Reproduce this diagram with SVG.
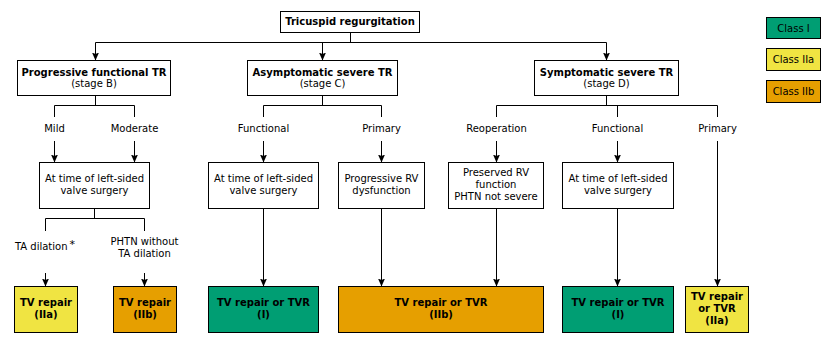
<svg xmlns="http://www.w3.org/2000/svg" width="832" height="344" viewBox="0 0 832 344">
  <style>
    text { font-family: "DejaVu Sans", Verdana, sans-serif; font-size: 10px; fill: #000; text-anchor: middle; }
    .b { font-weight: bold; }
    .box { fill: #fff; stroke: #000; stroke-width: 1; }
    .c1 { fill: #009E73; stroke: #000; stroke-width: 1; }
    .c2a { fill: #F0E442; stroke: #000; stroke-width: 1; }
    .c2b { fill: #E69F00; stroke: #000; stroke-width: 1; }
    .ln { fill: none; stroke: #000; stroke-width: 1; }
    .ar { fill: none; stroke: #000; stroke-width: 1; marker-end: url(#arrow); }
  </style>
  <defs>
    <marker id="arrow" markerUnits="userSpaceOnUse" viewBox="0 0 8 7" markerWidth="8" markerHeight="7" refX="8" refY="3.5" orient="auto">
      <path d="M0,0 L8,3.5 L0,7 L1.5,3.5 z" fill="#000"/>
    </marker>
  </defs>

  <rect width="832" height="344" fill="#fff"/>

  <!-- connectors -->
  <g id="connectors">
    <path class="ln" d="M350.5,32.5 V42.5 M95.5,42.5 H606.5"/>
    <path class="ar" d="M95.5,42.5 V60.5"/>
    <path class="ar" d="M322.5,42.5 V60.5"/>
    <path class="ar" d="M606.5,42.5 V60.5"/>

    <!-- stage B -->
    <path class="ln" d="M95.5,95.5 V105.5 M54.5,105.5 H134.5 M54.5,105.5 V117 M134.5,105.5 V117"/>
    <path class="ar" d="M54.5,141 V162.5"/>
    <path class="ar" d="M134.5,141 V162.5"/>
    <path class="ln" d="M94.5,208.5 V218.5 M45.5,218.5 H144.5 M45.5,218.5 V231 M144.5,218.5 V231"/>
    <path class="ar" d="M45.5,273 V286.5"/>
    <path class="ar" d="M144.5,273 V286.5"/>

    <!-- stage C -->
    <path class="ln" d="M322.5,95.5 V105.5 M263.5,105.5 H381.5 M263.5,105.5 V117 M381.5,105.5 V117"/>
    <path class="ar" d="M263.5,141 V162.5"/>
    <path class="ar" d="M381.5,141 V162.5"/>
    <path class="ar" d="M263.5,208.5 V286.5"/>
    <path class="ar" d="M381.5,208.5 V286.5"/>

    <!-- stage D -->
    <path class="ln" d="M606.5,95.5 V105.5 M496.5,105.5 H717.5 M496.5,105.5 V117 M617.5,105.5 V117 M717.5,105.5 V117"/>
    <path class="ar" d="M496.5,141 V162.5"/>
    <path class="ar" d="M617.5,141 V162.5"/>
    <path class="ar" d="M717.5,141 V286.5"/>
    <path class="ar" d="M496.5,208.5 V286.5"/>
    <path class="ar" d="M617.5,208.5 V286.5"/>
  </g>

  <!-- branch labels -->
  <g id="labels">
    <text x="54.5" y="132">Mild</text>
    <text x="134.5" y="132">Moderate</text>
    <text x="263.5" y="132">Functional</text>
    <text x="381.5" y="132">Primary</text>
    <text x="496.5" y="132">Reoperation</text>
    <text x="617.5" y="132">Functional</text>
    <text x="717.5" y="132">Primary</text>
    <text x="45" y="250">TA dilation<tspan font-size="11" dx="2" dy="-2">*</tspan></text>
    <text x="144.5" y="245">PHTN without</text>
    <text x="144.5" y="257">TA dilation</text>
  </g>

  <g id="root">
    <rect class="box" x="280.5" y="11.5" width="139" height="21"/>
    <text class="b" x="350" y="25">Tricuspid regurgitation</text>
  </g>

  <g id="stage-b">
    <rect class="box" x="17.5" y="60.5" width="153" height="35"/>
    <text class="b" x="94" y="76">Progressive functional TR</text>
    <text x="94" y="87">(stage B)</text>
  </g>
  <g id="stage-c">
    <rect class="box" x="247.5" y="60.5" width="150" height="35"/>
    <text class="b" x="322.5" y="76">Asymptomatic severe TR</text>
    <text x="322.5" y="87">(stage C)</text>
  </g>
  <g id="stage-d">
    <rect class="box" x="534.5" y="60.5" width="144" height="35"/>
    <text class="b" x="606.5" y="76">Symptomatic severe TR</text>
    <text x="606.5" y="87">(stage D)</text>
  </g>

  <g id="b-surgery">
    <rect class="box" x="39.5" y="162.5" width="110" height="46"/>
    <text x="94.5" y="182">At time of left-sided</text>
    <text x="94.5" y="194">valve surgery</text>
  </g>
  <g id="c-surgery">
    <rect class="box" x="208.5" y="162.5" width="110" height="46"/>
    <text x="263.5" y="182">At time of left-sided</text>
    <text x="263.5" y="194">valve surgery</text>
  </g>
  <g id="c-rv">
    <rect class="box" x="338.5" y="162.5" width="86" height="46"/>
    <text x="381.5" y="182">Progressive RV</text>
    <text x="381.5" y="194">dysfunction</text>
  </g>
  <g id="d-reop">
    <rect class="box" x="448.5" y="162.5" width="95" height="46"/>
    <text x="496" y="176">Preserved RV</text>
    <text x="496" y="188">function</text>
    <text x="496" y="200">PHTN not severe</text>
  </g>
  <g id="d-surgery">
    <rect class="box" x="562.5" y="162.5" width="111" height="46"/>
    <text x="618" y="182">At time of left-sided</text>
    <text x="618" y="194">valve surgery</text>
  </g>

  <!-- outcomes -->
  <g id="out-1">
    <rect class="c2a" x="14.5" y="286.5" width="63" height="46"/>
    <text class="b" x="46" y="306">TV repair</text>
    <text class="b" x="46" y="318">(IIa)</text>
  </g>
  <g id="out-2">
    <rect class="c2b" x="113.5" y="286.5" width="63" height="46"/>
    <text class="b" x="145" y="306">TV repair</text>
    <text class="b" x="145" y="318">(IIb)</text>
  </g>
  <g id="out-3">
    <rect class="c1" x="208.5" y="286.5" width="110" height="46"/>
    <text class="b" x="263.5" y="306">TV repair or TVR</text>
    <text class="b" x="263.5" y="318">(I)</text>
  </g>
  <g id="out-4">
    <rect class="c2b" x="338.5" y="286.5" width="205" height="46"/>
    <text class="b" x="441" y="306">TV repair or TVR</text>
    <text class="b" x="441" y="318">(IIb)</text>
  </g>
  <g id="out-5">
    <rect class="c1" x="562.5" y="286.5" width="111" height="46"/>
    <text class="b" x="618" y="306">TV repair or TVR</text>
    <text class="b" x="618" y="318">(I)</text>
  </g>
  <g id="out-6">
    <rect class="c2a" x="685.5" y="286.5" width="63" height="46"/>
    <text class="b" x="717" y="300">TV repair</text>
    <text class="b" x="717" y="312">or TVR</text>
    <text class="b" x="717" y="324">(IIa)</text>
  </g>

  <!-- legend -->
  <g id="legend-1">
    <rect class="c1" x="766.5" y="17.5" width="54" height="21"/>
    <text x="793.5" y="31.5">Class I</text>
  </g>
  <g id="legend-2a">
    <rect class="c2a" x="766.5" y="48.5" width="54" height="22"/>
    <text x="793.5" y="63">Class IIa</text>
  </g>
  <g id="legend-2b">
    <rect class="c2b" x="766.5" y="80.5" width="54" height="22"/>
    <text x="793.5" y="95">Class IIb</text>
  </g>
</svg>
